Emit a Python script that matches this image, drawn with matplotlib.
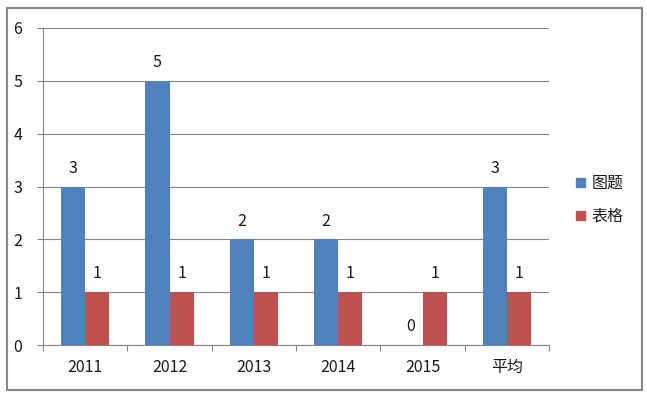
import matplotlib
matplotlib.use("Agg")
import matplotlib.pyplot as plt
import numpy as np
from matplotlib.patches import Rectangle

plt.rcParams['font.family'] = ['Noto Sans CJK SC', 'DejaVu Sans']

categories = ['2011', '2012', '2013', '2014', '2015', '平均']
series_names = ['图题', '表格']
figures_vals = [3, 5, 2, 2, 0, 3]
tables_vals = [1, 1, 1, 1, 1, 1]
yticks = [0, 1, 2, 3, 4, 5, 6]

blue = '#4F81BD'
red = '#C0504D'
grid_c = '#868686'
text_c = '#1a1a1a'
fs = 11.5

fig = plt.figure(figsize=(6.47, 4.03), dpi=100)
ax = fig.add_axes([43/647, 1-345/403, (549-43)/647, (345-28)/403])

x = np.arange(len(categories))
w = 0.285
b1 = ax.bar(x - w/2, figures_vals, w, color=blue, zorder=3)
b2 = ax.bar(x + w/2, tables_vals, w, color=red, zorder=3)

for bars, vals in ((b1, figures_vals), (b2, tables_vals)):
    for r, v in zip(bars, vals):
        ax.annotate(str(v), (r.get_x() + r.get_width()/2, v), xytext=(0, 7),
                    textcoords='offset points', ha='center', va='bottom',
                    fontsize=fs, color=text_c)

ax.set_xlim(-0.5, len(categories) - 0.5)
ax.set_ylim(0, 6)
ax.set_yticks(yticks)
ax.set_yticklabels([str(t) for t in yticks])
ax.yaxis.grid(True, color=grid_c, lw=0.8, zorder=0)
ax.set_axisbelow(True)

ax.set_xticks(x)
ax.set_xticklabels(categories)
ax.set_xticks(np.arange(-0.5, len(categories)), minor=True)
ax.tick_params(axis='x', which='major', length=0, pad=10, labelsize=fs, labelcolor=text_c)
ax.tick_params(axis='x', which='minor', length=4, color=grid_c, width=0.8)
ax.tick_params(axis='y', length=4, color=grid_c, width=0.8, pad=11, labelsize=fs, labelcolor=text_c)

for s in ('top', 'right'):
    ax.spines[s].set_visible(False)
for s in ('left', 'bottom'):
    ax.spines[s].set_color(grid_c)
    ax.spines[s].set_linewidth(0.8)

handles = [Rectangle((0, 0), 1, 1, color=blue), Rectangle((0, 0), 1, 1, color=red)]
fig.legend(handles, series_names, loc='center left', bbox_to_anchor=(0.868, 1-200/403),
           frameon=False, handlelength=0.55, handleheight=0.55, handletextpad=0.45,
           labelspacing=1.0, fontsize=fs, labelcolor=text_c)

fig.patches.append(Rectangle((7/647, 1-390/403), (642-7)/647, (390-8)/403,
                             transform=fig.transFigure, fill=False,
                             edgecolor='#868686', lw=1.5))

fig.savefig('out.png', dpi=100, facecolor='white')
